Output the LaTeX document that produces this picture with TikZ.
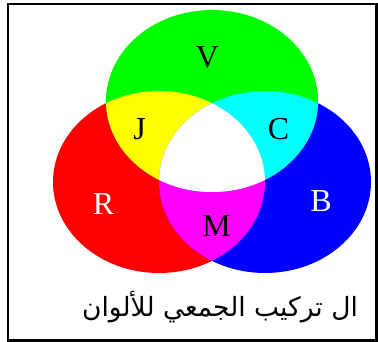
\documentclass[tikz,border=0pt]{standalone}
\usepackage{fontspec}
\setmainfont{Liberation Serif}
\newfontfamily\arabicfont[Script=Arabic]{DejaVu Sans}
\TeXXeTstate=1
\definecolor{addred}{rgb}{1,0,0}
\definecolor{addgreen}{rgb}{0,1,0}
\definecolor{addblue}{rgb}{0,0,1}
\definecolor{addyellow}{rgb}{1,1,0}
\definecolor{addcyan}{rgb}{0,1,1}
\definecolor{addmagenta}{rgb}{1,0,1}

\begin{document}
\begin{tikzpicture}[
    x=1pt, y=-1pt,
    letter/.style={font=\fontsize{32}{32}\selectfont, inner sep=0pt},
    caption/.style={font=\arabicfont\fontsize{26.5}{26.5}\selectfont, inner sep=0pt},
    frame/.style={draw, line width=2.4pt}
  ]
    \useasboundingbox (0,0) rectangle (378,342);
    \draw[frame] (8,4) rectangle (376.6,340.6);

    % the three discs
    \fill[addred] (159,182) ellipse [x radius=106, y radius=91];
    \fill[addblue] (265,182) ellipse [x radius=106, y radius=91];
    \fill[addgreen] (212,101) ellipse [x radius=106, y radius=91];

    % pairwise overlaps
    \begin{scope}
      \clip (159,182) ellipse [x radius=106, y radius=91];
      \fill[addyellow] (212,101) ellipse [x radius=106, y radius=91];
      \fill[addmagenta] (265,182) ellipse [x radius=106, y radius=91];
    \end{scope}
    \begin{scope}
      \clip (265,182) ellipse [x radius=106, y radius=91];
      \fill[addcyan] (212,101) ellipse [x radius=106, y radius=91];
    \end{scope}
    \begin{scope}
      \clip (159,182) ellipse [x radius=106, y radius=91];
      \clip (265,182) ellipse [x radius=106, y radius=91];
      \fill[white] (212,101) ellipse [x radius=106, y radius=91];
    \end{scope}

    \node[letter] (vert) at (207.5,57.5) {V};
    \node[letter] (jaune) at (139.5,129) {J};
    \node[letter] (cyan) at (278.5,129) {C};
    \node[letter, white] (rouge) at (103.5,204) {R};
    \node[letter, white] (bleu) at (321,201) {B};
    \node[letter] (magenta) at (216.5,226) {M};

    \node[caption] (titre) at (220,307) {\beginR ال تركيب الجمعي للألوان\endR};
  \end{tikzpicture}
\end{document}
